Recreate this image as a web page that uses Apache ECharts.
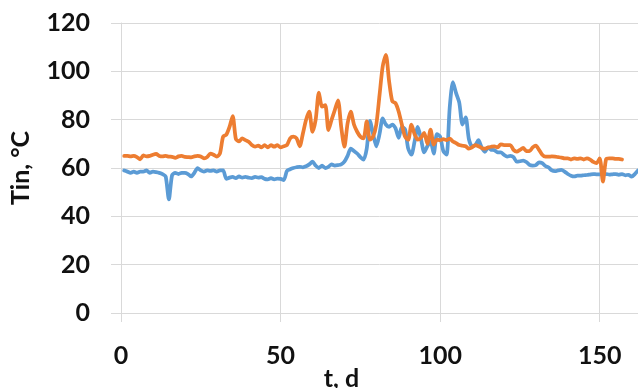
<!DOCTYPE html>
<html>
<head>
<meta charset="utf-8">
<script src="https://cdn.jsdelivr.net/npm/echarts@6/dist/echarts.min.js"></script>
<style>html,body{margin:0;padding:0;background:#fff}#c{width:638px;height:388px}</style>
</head>
<body>
<div id="c"></div>
<script>
const xTicks = [0, 50, 100, 150];
const yTicks = [0, 20, 40, 60, 80, 100, 120];
const xTitle = 't, d';
const yTitle = 'Tin, \u00B0C';

const blueValues = [
  59, 58.5, 58, 58.5, 58, 58.5, 58.5, 59, 58, 58.5,
  58.3, 58, 57.5, 56.5, 47, 57, 58, 57.5, 58, 58,
  57.5, 56.5, 58, 60, 59, 58.5, 59, 58.8, 59, 58.5,
  59, 59, 55.5, 56, 56.3, 55.8, 56.5, 56, 56.3, 56,
  55.8, 56.3, 56, 56.2, 55.5, 55.3, 55.8, 55.3, 55.6, 55.5,
  55, 58.8, 59.5, 60, 60.3, 60.5, 60.3, 60.7, 61.5, 62.6,
  61, 60, 61, 60, 60.5, 61.5, 61, 61.2, 61.5, 62.6,
  65, 68, 67, 66, 64.5, 63.5, 68, 79.5, 74, 69,
  74, 80.5, 78, 77, 78, 76.5, 72.5, 77, 76, 68,
  65.5, 71, 77, 72, 66.5, 69, 71, 66, 74, 73,
  67, 65.5, 85, 95.5, 91, 87, 78, 81, 72, 69,
  69.5, 71.5, 68.5, 66.7, 68.5, 67.5, 67.4, 66.5, 66.5, 65.5,
  64.7, 65, 64.5, 62.6, 62.8, 63.1, 62.5, 61.3, 61, 61.2,
  62.3, 62, 60.8, 60.2, 59, 58.7, 59, 59.2, 58.5, 57.5,
  56.8, 56.5, 56.8, 56.8, 57, 57.1, 57.3, 57.5, 57.4, 57.4,
  57.5, 57.5, 57.3, 57.4, 57.5, 57.2, 57.5, 57, 57.2, 56.4,
  57.5, 59
];

const orangeValues = [
  65, 65, 64.8, 65, 64.5, 63.6, 65.2, 64.8, 65, 65.5,
  65.8, 65, 64.8, 65, 64.7, 64.6, 64.2, 64.8, 65, 64.6,
  64.5, 64.4, 64.8, 65, 64.8, 64, 64.5, 66, 65.5, 64.7,
  66, 73, 73.8, 77, 81.5, 72, 71, 72.3, 71.5, 70.9,
  69.5, 68.8, 69.3, 68.5, 69.5, 68.5, 69.5, 68.8, 69.5, 68.5,
  69, 69.5, 72.3, 73, 72.3, 69, 74.3, 80, 83.3, 75,
  80, 91.2, 85.4, 86, 75.7, 80, 84, 88, 77, 68.8,
  78.5, 83.3, 78, 75, 73, 72.3, 79.3, 71.7, 73, 78,
  90, 102, 106.8, 96, 87.6, 86.9, 83.4, 78, 73, 71.7,
  78, 74, 71.7, 72.5, 74.5, 70, 75.9, 69.7, 71.7, 71.5,
  72, 71.5, 72.2, 71, 70.3, 69.5, 69.2, 69, 68, 68.5,
  69.5, 69, 68.3, 68, 68.5, 68.8, 69, 68.5, 69.8, 69.5,
  69.5, 69.5, 67.5, 66.8, 67.5, 68.3, 67, 67, 68.5, 69.3,
  67.5, 65.5, 64.7, 64.7, 64.8, 64.7, 64.5, 64.3, 64, 64,
  63.5, 64, 63.8, 64, 63.5, 64, 63.5, 62.5, 62, 64,
  54.4, 63.6, 64, 64, 63.8, 63.8, 63.5
];

const blueDays = blueValues.map((_, i) => i + 1);
const orangeDays = orangeValues.map((_, i) => i + 1);

const font = 'Lato, "Open Sans", sans-serif';
const textColor = '#111111';
const gridColor = '#d9d9d9';

const chart = echarts.init(document.getElementById('c'));
chart.setOption({
  animation: false,
  grid: { left: 121, right: 0, top: 23, bottom: 75, containLabel: false, outerBoundsMode: 'none' },
  xAxis: {
    type: 'value', min: 0, max: 162, interval: 50,
    name: xTitle, nameLocation: 'middle', nameGap: 53, nameMoveOverlap: false,
    nameTextStyle: { fontFamily: font, fontWeight: 'bold', fontSize: 25, color: textColor, padding: [0, 76, 0, 0] },
    axisLine: { show: true, lineStyle: { color: gridColor, width: 1 } },
    axisTick: { show: true, length: 9, lineStyle: { color: gridColor } },
    axisLabel: {
      margin: 30, fontFamily: font, fontWeight: 'bold', fontSize: 25, color: textColor,
      customValues: xTicks
    },
    splitLine: { show: true, lineStyle: { color: gridColor, width: 1 } }
  },
  yAxis: {
    type: 'value', min: 0, max: 120, interval: 20,
    name: yTitle, nameLocation: 'middle', nameGap: 88, nameRotate: 90, nameMoveOverlap: false,
    nameTextStyle: { fontFamily: font, fontWeight: 'bold', fontSize: 25, color: textColor },
    axisLine: { show: true, lineStyle: { color: gridColor, width: 1 } },
    axisTick: { show: true, length: 10, lineStyle: { color: gridColor } },
    axisLabel: { margin: 31, fontFamily: font, fontWeight: 'bold', fontSize: 25, color: textColor },
    splitLine: { show: true, lineStyle: { color: gridColor, width: 1 } }
  },
  series: [
    {
      type: 'line', name: 'blue', showSymbol: false, symbol: 'none', smooth: 0.25,
      data: blueDays.map((t, i) => [t, blueValues[i]]),
      lineStyle: { color: '#5B9BD5', width: 3.75, join: 'round', cap: 'round' },
      itemStyle: { color: '#5B9BD5' }, z: 2
    },
    {
      type: 'line', name: 'orange', showSymbol: false, symbol: 'none', smooth: 0.25,
      data: orangeDays.map((t, i) => [t, orangeValues[i]]),
      lineStyle: { color: '#ED7D31', width: 3.75, join: 'round', cap: 'round' },
      itemStyle: { color: '#ED7D31' }, z: 3
    }
  ]
});
</script>
</body>
</html>
